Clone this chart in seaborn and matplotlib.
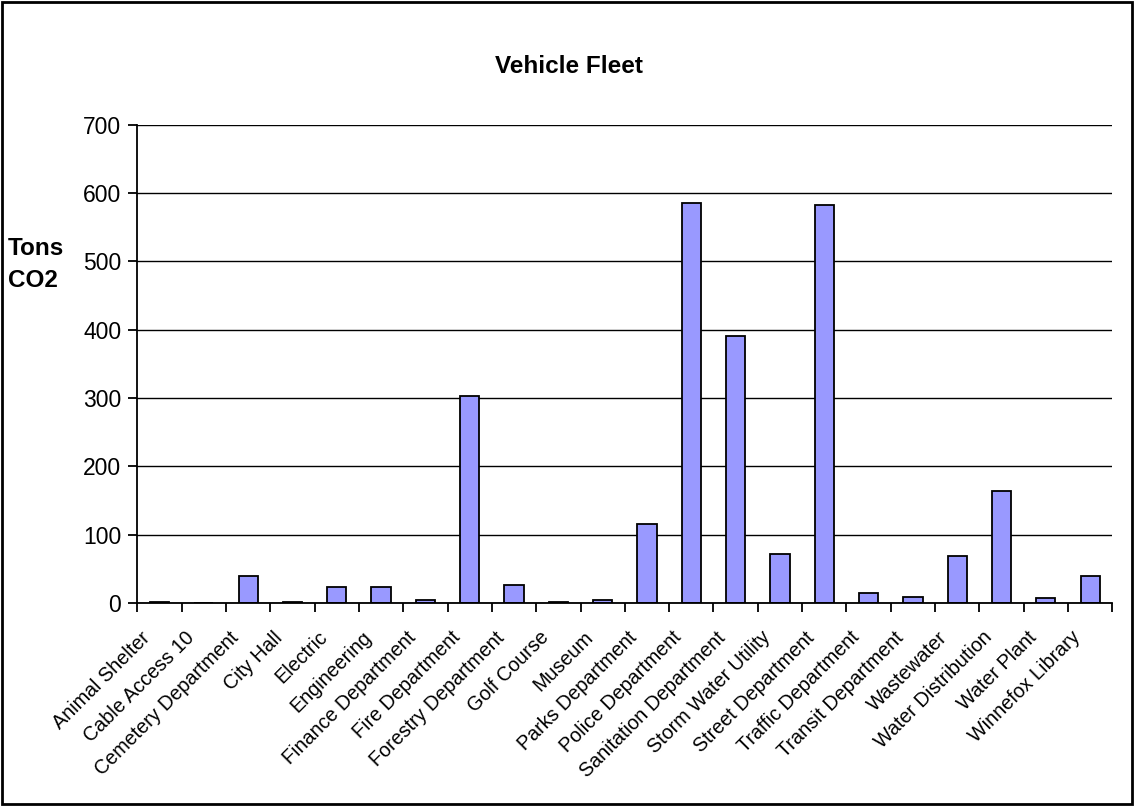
import matplotlib
matplotlib.use("Agg")
import matplotlib.pyplot as plt
import matplotlib.transforms as mtransforms
import seaborn as sns
import pandas as pd
import numpy as np
from matplotlib.patches import Rectangle

departments = [
    "Animal Shelter", "Cable Access 10", "Cemetery Department", "City Hall",
    "Electric", "Engineering", "Finance Department", "Fire Department",
    "Forestry Department", "Golf Course", "Museum", "Parks Department",
    "Police Department", "Sanitation Department", "Storm Water Utility",
    "Street Department", "Traffic Department", "Transit Department",
    "Wastewater", "Water Distribution", "Water Plant", "Winnefox Library",
]
tons_co2 = [2, 0, 40, 2, 23, 23, 4, 303, 26, 2, 4, 116,
            585, 391, 72, 583, 14, 9, 69, 164, 7, 40]

df = pd.DataFrame({"dept": departments, "tons": tons_co2})

sns.set_theme(style="white")
plt.rcParams["font.family"] = ["Liberation Sans", "DejaVu Sans"]
plt.rcParams.update({"text.color": "black", "axes.labelcolor": "black",
                     "xtick.color": "black", "ytick.color": "black"})

fig = plt.figure(figsize=(11.34, 8.06), dpi=100)
ax = fig.add_axes([0.121, 0.252, 0.86, 0.593])

sns.barplot(data=df, x="dept", y="tons", color="#9999FF", saturation=1,
            width=0.43, edgecolor="black", linewidth=1.3, ax=ax)

ax.set_ylim(0, 700)
ax.set_xlim(-0.5, len(departments) - 0.5)
ax.set_yticks(range(0, 701, 100))
ax.yaxis.grid(True, color="black", linewidth=1)
ax.set_axisbelow(True)
for s in ["top", "right"]:
    ax.spines[s].set_visible(False)
for s in ["left", "bottom"]:
    ax.spines[s].set_color("black")
    ax.spines[s].set_linewidth(1.3)

# category labels at centres, tick marks at boundaries (spreadsheet style)
ax.set_xticks(range(len(departments)))
ax.set_xticklabels(departments, rotation=45, ha="right", va="top",
                   rotation_mode="anchor", fontsize=14.2)
ax.tick_params(axis="x", which="major", length=0, pad=18)
shift = mtransforms.ScaledTranslation(-14 / 72, 0, fig.dpi_scale_trans)
for lbl in ax.get_xticklabels():
    lbl.set_transform(lbl.get_transform() + shift)
ax.set_xticks(np.arange(-0.5, len(departments)), minor=True)
ax.tick_params(axis="x", which="minor", length=6.5, width=1.3,
               bottom=True, direction="out")
ax.tick_params(axis="y", length=6.5, width=1.3, left=True,
               direction="out", labelsize=16.5, pad=5)

ax.set_xlabel("")
ax.set_ylabel("")
fig.text(0.007, 0.672, "Tons\nCO2", fontsize=17.5, fontweight="bold",
         ha="left", va="center", linespacing=1.5)
fig.text(0.502, 0.918, "Vehicle Fleet", fontsize=17.5, fontweight="bold",
         ha="center", va="center")

fig.patches.append(Rectangle((0.0015, 0.002), 0.997, 0.996, transform=fig.transFigure,
                             fill=False, edgecolor="black", linewidth=2))

fig.savefig("out.png", dpi=100)
